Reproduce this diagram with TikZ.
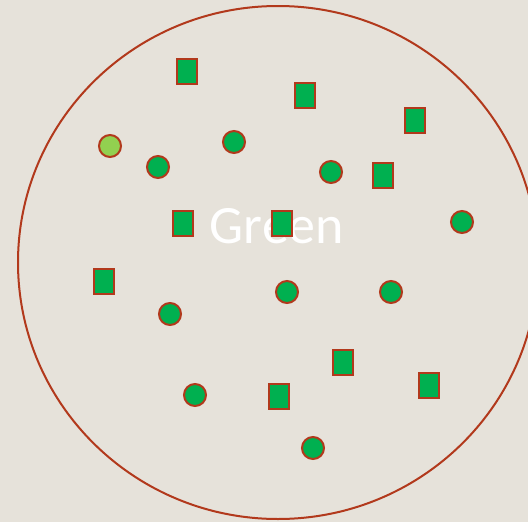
\documentclass[tikz,border=0pt]{standalone}
\usepackage{fontspec}
\newfontfamily\labelfont{Carlito}
\definecolor{bgbeige}{HTML}{E6E2DA}
\definecolor{rimred}{HTML}{B2391C}
\definecolor{setgreen}{HTML}{00B050}
\definecolor{setlime}{HTML}{92D050}
\begin{document}
\begin{tikzpicture}[x=1pt, y=-1pt,
  dot/.style={circle, draw=rimred, line width=2pt, fill=setgreen, minimum size=22pt, inner sep=0pt},
  blok/.style={rectangle, draw=rimred, line width=2pt, fill=setgreen, minimum width=20pt, minimum height=25pt, inner sep=0pt}]

  % --- 1. 背景 ---
  \fill[bgbeige] (0,0) rectangle (528,522);
  \useasboundingbox (0,0) rectangle (528,522);

  % --- 2. 集合の楕円とラベル ---
  \draw[rimred, line width=2pt] (278,262.5) ellipse [x radius=260, y radius=256.5];
  \node[anchor=base, white, font=\labelfont\fontsize{54}{60}\selectfont, inner sep=0pt] (label) at (277,243) {Green};

  % --- 3. 四角 ---
  \node[blok] (s1) at (187,71.5) {};
  \node[blok] (s2) at (304.5,95) {};
  \node[blok] (s3) at (415,120) {};
  \node[blok] (s4) at (383,175) {};
  \node[blok] (s5) at (183,223.5) {};
  \node[blok] (s6) at (282,223.5) {};
  \node[blok] (s7) at (104,281) {};
  \node[blok] (s8) at (343,362) {};
  \node[blok] (s9) at (429,385) {};
  \node[blok] (s10) at (279,396) {};

  % --- 4. 丸 ---
  \node[dot, fill=setlime] (c0) at (110,146) {};
  \node[dot] (c1) at (158,167) {};
  \node[dot] (c2) at (234,142) {};
  \node[dot] (c3) at (331,172) {};
  \node[dot] (c4) at (462,222) {};
  \node[dot] (c5) at (287,292) {};
  \node[dot] (c6) at (391,292) {};
  \node[dot] (c7) at (170,314) {};
  \node[dot] (c8) at (195,395) {};
  \node[dot] (c9) at (313,448) {};

\end{tikzpicture}
\end{document}
